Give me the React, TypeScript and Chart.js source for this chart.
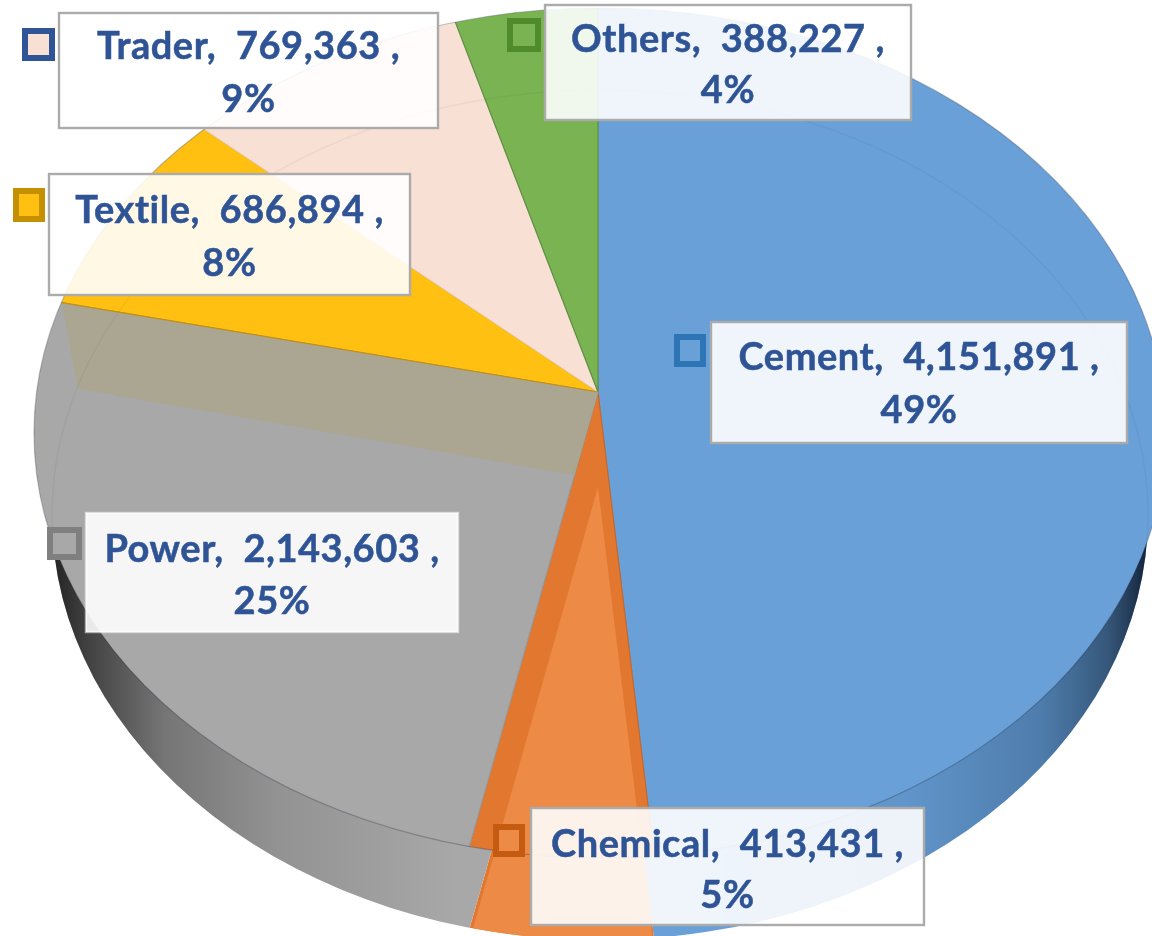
import React, { useEffect, useRef } from "react";
import { Chart, registerables } from "chart.js";

Chart.register(...registerables);

// ---------- data ----------
const categories = ["Cement", "Chemical", "Power", "Textile", "Trader", "Others"];
const values = [4151891, 413431, 2143603, 686894, 769363, 388227];
const percentLabels = ["49%", "5%", "25%", "8%", "9%", "4%"];

// ---------- styling ----------
const sliceColors = ["#6AA0D8", "#E2772F", "#A8A8A8", "#FFC012", "#F8E1D4", "#7AB351"];
const sliceBorders = ["#5A8FC4", "#C9682A", "#9A9A9A", "#BE8F1A", "#EAD2C3", "#5F8F45"];
const keyStrokes = ["#2E75B6", "#C55A11", "#7F7F7F", "#C49000", "#2F5597", "#4F8A2B"];
const keyFills = ["#6AA0D8", "#ED8A45", "#A8A8A8", "#FFC012", "#F8E1D4", "#7AB351"];
const labelBoxes = [
  [711, 322, 416, 121],
  [531, 808, 393, 117],
  [86, 513, 372, 119],
  [49, 174, 361, 121],
  [59, 13, 379, 115],
  [545, 5, 366, 115],
];
const keyBoxes = [
  [674, 334, 32, 33],
  [493, 824, 32, 33],
  [47, 527, 35, 33],
  [13, 188, 32, 34],
  [22, 28, 33, 33],
  [507, 18, 34, 34],
];
const firstBaselines = [48, 49, 49, 49, 46, 47];
const secondBaselines = [101, 100, 101, 102, 99, 98];
const labelBorders = ["#ABABAB", "#ABABAB", "rgba(255,255,255,0.6)", "#ABABAB", "#ABABAB", "#ABABAB"];

const W = 1152;
const H = 936;
const apex = { x: 598, y: 392 };
const squash = 0.76;
const topDisc = { x: 600, y: 433, rx: 566, ry: 425 };
const lowDisc = { x: 600, y: 515, rx: 548, ry: 425 };
const wallShift = 83;
const ghostShift = 95;
const font = 'bold 38px Lato, "Open Sans", sans-serif';

function discPath(ctx: CanvasRenderingContext2D, d: typeof topDisc) {
  ctx.beginPath();
  ctx.ellipse(d.x, d.y, d.rx, d.ry, 0, 0, Math.PI * 2);
}

function wedgePath(ctx: CanvasRenderingContext2D, arc: any, shift: number) {
  const R = arc.outerRadius;
  ctx.beginPath();
  ctx.moveTo(apex.x, apex.y + shift);
  ctx.ellipse(apex.x, apex.y + shift, R, R * squash, 0, arc.startAngle, arc.endAngle);
  ctx.closePath();
}

const pie3d = {
  id: "pie3d",
  beforeDatasetsDraw(chart: any) {
    const ctx: CanvasRenderingContext2D = chart.ctx;
    const arcs = chart.getDatasetMeta(0).data;

    // side wall: the same arcs pushed down, cut by the lower disc
    ctx.save();
    discPath(ctx, lowDisc);
    ctx.clip();
    arcs.forEach((arc: any, i: number) => {
      wedgePath(ctx, arc, wallShift);
      ctx.fillStyle = sliceColors[i];
      ctx.fill();
    });
    const g = ctx.createLinearGradient(30, 0, 1152, 0);
    g.addColorStop(0.0, "rgba(0,0,0,0.9)");
    g.addColorStop(0.05, "rgba(0,0,0,0.62)");
    g.addColorStop(0.12, "rgba(0,0,0,0.3)");
    g.addColorStop(0.22, "rgba(0,0,0,0.13)");
    g.addColorStop(0.38, "rgba(0,0,0,0)");
    g.addColorStop(0.6, "rgba(0,0,0,0)");
    g.addColorStop(0.78, "rgba(20,50,80,0.1)");
    g.addColorStop(0.9, "rgba(20,50,80,0.32)");
    g.addColorStop(0.96, "rgba(20,40,60,0.6)");
    g.addColorStop(1.0, "rgba(10,20,40,0.95)");
    ctx.fillStyle = g;
    ctx.fillRect(0, 0, W, H);
    ctx.restore();

    // top surface: the library's arcs, squashed about the apex and cut by the top disc
    ctx.save();
    discPath(ctx, topDisc);
    ctx.clip();
    const first = arcs[0];
    ctx.translate(apex.x, apex.y);
    ctx.scale(1, squash);
    ctx.translate(-first.x, -first.y);
  },
  afterDatasetsDraw(chart: any) {
    const ctx: CanvasRenderingContext2D = chart.ctx;
    const arcs = chart.getDatasetMeta(0).data;
    ctx.restore();

    // lit interior of the Chemical slice
    ctx.save();
    discPath(ctx, lowDisc);
    ctx.clip();
    wedgePath(ctx, arcs[1], ghostShift);
    ctx.fillStyle = keyFills[1];
    ctx.fill();
    ctx.restore();

    // cut face below the Power / Textile edge
    ctx.save();
    discPath(ctx, topDisc);
    ctx.clip();
    const a = arcs[2].endAngle;
    const b = arcs[2].startAngle;
    const far = { x: apex.x + 549 * Math.cos(a), y: apex.y + 549 * squash * Math.sin(a) };
    const k = wallShift / (squash * Math.sin(b));
    const near = { x: apex.x + k * Math.cos(b), y: apex.y + wallShift };
    ctx.beginPath();
    ctx.moveTo(apex.x, apex.y);
    ctx.lineTo(far.x, far.y);
    ctx.lineTo(far.x + 16, far.y + 86);
    ctx.lineTo(near.x, near.y);
    ctx.closePath();
    ctx.fillStyle = "#ABA692";
    ctx.fill();
    ctx.strokeStyle = "rgba(190,143,26,0.9)";
    ctx.lineWidth = 1.2;
    ctx.beginPath();
    ctx.moveTo(apex.x, apex.y);
    ctx.lineTo(far.x, far.y);
    ctx.stroke();

    // faint back edge of the lower disc, seen through the top
    discPath(ctx, lowDisc);
    ctx.strokeStyle = "rgba(40,60,90,0.06)";
    ctx.lineWidth = 1.5;
    ctx.stroke();
    ctx.restore();

    // rim of the top disc
    discPath(ctx, topDisc);
    ctx.strokeStyle = "rgba(40,50,70,0.3)";
    ctx.lineWidth = 1.2;
    ctx.stroke();

    // labels
    ctx.textAlign = "center";
    ctx.textBaseline = "alphabetic";
    categories.forEach((name, i) => {
      const [x, y, w, h] = labelBoxes[i];
      ctx.fillStyle = "rgba(255,255,255,0.89)";
      ctx.fillRect(x, y, w, h);
      ctx.strokeStyle = labelBorders[i];
      ctx.lineWidth = 2.4;
      ctx.strokeRect(x, y, w, h);

      const [kx, ky, kw, kh] = keyBoxes[i];
      ctx.fillStyle = keyFills[i];
      ctx.fillRect(kx, ky, kw, kh);
      ctx.strokeStyle = keyStrokes[i];
      ctx.lineWidth = 6;
      ctx.strokeRect(kx + 3, ky + 3, kw - 6, kh - 6);

      ctx.font = font;
      (ctx as any).letterSpacing = "0.55px";
      ctx.fillStyle = "#2F5496";
      ctx.strokeStyle = "#2F5496";
      ctx.lineWidth = 0.5;
      const line1 = `${name},  ${values[i].toLocaleString("en-US")} ,`;
      ctx.fillText(line1, x + w / 2, y + firstBaselines[i]);
      ctx.strokeText(line1, x + w / 2, y + firstBaselines[i]);
      ctx.fillText(percentLabels[i], x + w / 2, y + secondBaselines[i]);
      ctx.strokeText(percentLabels[i], x + w / 2, y + secondBaselines[i]);
    });
  },
};

export default function App() {
  const ref = useRef<HTMLCanvasElement>(null);
  useEffect(() => {
    document.body.style.margin = "0";
    document.body.style.background = "#fff";
    const chart = new Chart(ref.current!, {
      type: "pie",
      data: {
        labels: categories,
        datasets: [
          {
            data: values,
            backgroundColor: sliceColors,
            borderColor: sliceBorders,
            borderWidth: 1.2,
            clip: false,
          } as any,
        ],
      },
      options: {
        responsive: false,
        animation: false,
        radius: 800,
        layout: { padding: 0 },
        plugins: { legend: { display: false }, tooltip: { enabled: false } },
      } as any,
      plugins: [pie3d],
    });
    return () => chart.destroy();
  }, []);
  return <canvas ref={ref} width={W} height={H} style={{ display: "block", filter: "blur(0.5px)" }} />;
}
